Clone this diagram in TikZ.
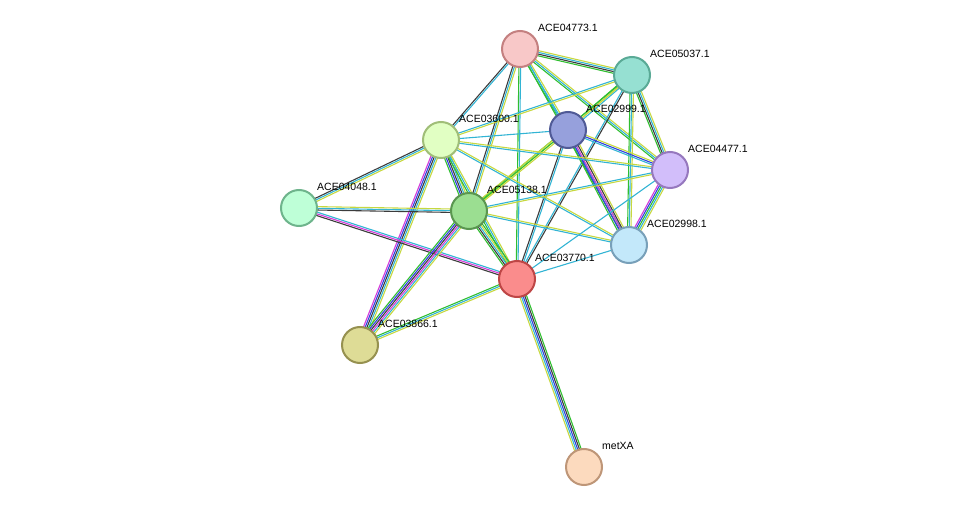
\documentclass[tikz,border=0pt]{standalone}
\usepackage{fontspec}
\setmainfont{Liberation Sans}
\usetikzlibrary{calc}
\pgfdeclarelayer{bg}
\pgfsetlayers{bg,main}
\definecolor{tm}{RGB}{199,216,64}
\definecolor{co}{RGB}{60,60,60}
\definecolor{db}{RGB}{50,180,212}
\definecolor{ex}{RGB}{212,58,216}
\definecolor{nb}{RGB}{48,190,48}
\definecolor{cc}{RGB}{48,64,224}
\definecolor{ad}{RGB}{196,128,128}\definecolor{af}{RGB}{248,200,200}
\definecolor{bd}{RGB}{90,170,150}\definecolor{bf}{RGB}{150,224,210}
\definecolor{cd}{RGB}{80,90,150}\definecolor{cf}{RGB}{150,160,220}
\definecolor{dd}{RGB}{160,190,120}\definecolor{df}{RGB}{225,255,195}
\definecolor{ed}{RGB}{150,120,190}\definecolor{ef}{RGB}{210,190,250}
\definecolor{fd}{RGB}{110,180,140}\definecolor{ff}{RGB}{190,255,215}
\definecolor{gd}{RGB}{90,150,80}\definecolor{gf}{RGB}{155,222,145}
\definecolor{hd}{RGB}{120,160,185}\definecolor{hf}{RGB}{195,232,250}
\definecolor{id}{RGB}{190,70,70}\definecolor{if}{RGB}{250,140,140}
\definecolor{jd}{RGB}{150,145,80}\definecolor{jf}{RGB}{222,220,150}
\definecolor{kd}{RGB}{190,150,120}\definecolor{kf}{RGB}{252,218,190}
\newcommand\stredge[4]{%
  \foreach \cl [count=\i] in {#4} {%
    \pgfmathsetmacro\off{(\i-(#3+1)/2)*1.7}
    \draw[\cl,line width=1.1pt] ($(#1)!\off pt!90:(#2)$) -- ($(#2)!\off pt!-90:(#1)$);
  }}
\tikzset{prot/.style={circle,line width=2pt,minimum size=36pt,inner sep=0pt},
 lab/.style={anchor=west,font=\fontsize{10.5}{12}\selectfont,inner sep=0pt}}
\begin{document}
\begin{tikzpicture}[x=1pt,y=-1pt]
\useasboundingbox (0,0) rectangle (975,513);
\foreach \n/\x/\y in {a/520/49,b/632/75,c/568/130,d/441/140,e/670/170,f/299/208,g/469/211,h/629/245,i/517/279,j/360/345,k/584/467}
  \node[prot,draw=\n d,fill=\n f] (\n) at (\x,\y) {};
\foreach \n/\t in {a/ACE04773.1,b/ACE05037.1,c/ACE02999.1,d/ACE03600.1,e/ACE04477.1,f/ACE04048.1,g/ACE05138.1,h/ACE02998.1,i/ACE03770.1,j/ACE03866.1,k/metXA}
  \node[lab] (l\n) at ($(\n)+(18,-21)$) {\t};
\begin{pgfonlayer}{bg}
\stredge{a}{b}{4}{nb,co,db,tm}
\stredge{a}{c}{3}{nb,db,tm}
\stredge{a}{d}{2}{co,db}
\stredge{a}{g}{3}{co,db,tm}
\stredge{a}{i}{2}{nb,db}
\stredge{a}{e}{3}{nb,db,tm}
\stredge{a}{h}{2}{nb,db}
\stredge{b}{c}{3}{nb,tm,db}
\stredge{b}{d}{2}{db,tm}
\stredge{b}{e}{4}{nb,co,db,tm}
\stredge{b}{h}{3}{nb,db,tm}
\stredge{b}{g}{2}{nb,tm}
\stredge{b}{i}{2}{db,co}
\stredge{c}{d}{1}{db}
\stredge{c}{e}{3}{db,cc,tm}
\stredge{c}{h}{5}{nb,cc,ex,co,tm}
\stredge{c}{g}{3}{tm,nb,tm}
\stredge{c}{i}{2}{co,db}
\stredge{d}{e}{2}{db,tm}
\stredge{d}{h}{2}{db,tm}
\stredge{d}{g}{5}{nb,cc,co,db,tm}
\stredge{d}{i}{3}{nb,db,tm}
\stredge{d}{f}{3}{co,db,tm}
\stredge{d}{j}{5}{ex,cc,co,db,tm}
\stredge{f}{g}{3}{co,db,tm}
\stredge{f}{i}{3}{co,ex,db}
\stredge{g}{i}{5}{nb,co,db,tm,nb}
\stredge{g}{j}{6}{nb,cc,co,ex,db,tm}
\stredge{g}{e}{2}{tm,db}
\stredge{g}{h}{2}{db,tm}
\stredge{i}{j}{3}{nb,db,tm}
\stredge{i}{h}{1}{db}
\stredge{i}{e}{1}{db}
\stredge{e}{h}{5}{ex,cc,nb,db,tm}
\stredge{i}{k}{5}{tm,db,cc,co,nb}
\end{pgfonlayer}
\end{tikzpicture}
\end{document}
